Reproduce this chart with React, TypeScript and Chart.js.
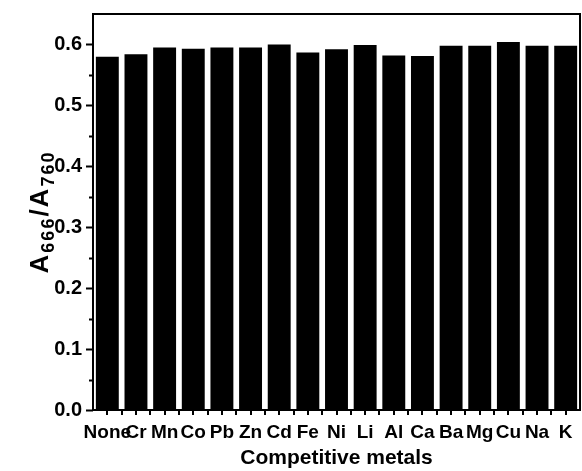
import { useEffect, useRef } from 'react';
import { Chart, registerables } from 'chart.js';

Chart.register(...registerables);

// Competing metal ions and the measured absorbance ratio for each
const metals = ['None', 'Cr', 'Mn', 'Co', 'Pb', 'Zn', 'Cd', 'Fe', 'Ni', 'Li', 'Al', 'Ca', 'Ba', 'Mg', 'Cu', 'Na', 'K'];
const ratios = [0.580, 0.584, 0.595, 0.593, 0.595, 0.595, 0.600, 0.587, 0.592, 0.599, 0.582, 0.581, 0.598, 0.598, 0.604, 0.598, 0.598];

// Y axis tick values
const yMajorTicks = [0, 0.1, 0.2, 0.3, 0.4, 0.5, 0.6];
const yMinorTicks = [0.05, 0.15, 0.25, 0.35, 0.45, 0.55];
const yMax = 0.65;

const FONT = '"Liberation Sans", Arial, Helvetica, sans-serif';

// Draws the boxed frame and outward tick marks around the plot area
const framePlugin = {
  id: 'frameTicks',
  afterDraw(chart: any) {
    const { ctx, chartArea: ca } = chart;
    const xs = chart.scales.x;
    const ys = chart.scales.y;
    ctx.save();
    ctx.strokeStyle = '#000';
    ctx.lineWidth = 2;
    ctx.strokeRect(ca.left, ca.top, ca.right - ca.left, ca.bottom - ca.top);

    ctx.beginPath();
    for (const v of yMajorTicks) {
      const py = Math.round(ys.getPixelForValue(v)) + 0.5;
      ctx.moveTo(ca.left - 7, py);
      ctx.lineTo(ca.left, py);
    }
    for (const v of yMinorTicks) {
      const py = Math.round(ys.getPixelForValue(v)) + 0.5;
      ctx.moveTo(ca.left - 4, py);
      ctx.lineTo(ca.left, py);
    }
    const n = metals.length;
    const positions: number[] = [];
    for (let i = 0; i < n; i++) {
      const c = xs.getPixelForValue(i);
      positions.push(c);
      if (i < n - 1) positions.push((c + xs.getPixelForValue(i + 1)) / 2);
    }
    for (const px of positions) {
      const x = Math.round(px);
      ctx.moveTo(x, ca.bottom);
      ctx.lineTo(x, ca.bottom + 5);
    }
    ctx.stroke();
    ctx.restore();
  },
};

// Rotated y axis title with subscripts: A666/A760
const yTitlePlugin = {
  id: 'yTitle',
  afterDraw(chart: any) {
    const { ctx, chartArea: ca } = chart;
    const parts = [
      { t: 'A', sub: false },
      { t: '666', sub: true },
      { t: '/A', sub: false },
      { t: '760', sub: true },
    ];
    const big = `bold 26px ${FONT}`;
    const small = `bold 18px ${FONT}`;
    ctx.save();
    (ctx as any).letterSpacing = '2px';
    let total = 0;
    for (const p of parts) {
      ctx.font = p.sub ? small : big;
      total += ctx.measureText(p.t).width;
    }
    ctx.translate(48, (ca.top + ca.bottom) / 2);
    ctx.rotate(-Math.PI / 2);
    ctx.fillStyle = '#000';
    ctx.textBaseline = 'alphabetic';
    let x = -total / 2;
    for (const p of parts) {
      ctx.font = p.sub ? small : big;
      ctx.fillText(p.t, x, p.sub ? 6 : 0);
      x += ctx.measureText(p.t).width;
    }
    ctx.restore();
  },
};

export default function App() {
  const canvasRef = useRef<HTMLCanvasElement | null>(null);

  useEffect(() => {
    if (!canvasRef.current) return;
    const chart = new Chart(canvasRef.current, {
      type: 'bar',
      data: {
        labels: metals,
        datasets: [
          {
            data: ratios,
            backgroundColor: '#000',
            borderWidth: 0,
            barPercentage: 0.8,
            categoryPercentage: 1.0,
          },
        ],
      },
      options: {
        animation: false,
        responsive: true,
        maintainAspectRatio: false,
        layout: { padding: { top: 14, right: 2, left: 0, bottom: 0 } },
        plugins: {
          legend: { display: false },
          tooltip: { enabled: false },
        },
        scales: {
          x: {
            grid: { display: false, drawTicks: false },
            border: { display: false },
            ticks: {
              autoSkip: false,
              maxRotation: 0,
              minRotation: 0,
              padding: 11,
              color: '#000',
              font: { family: FONT, size: 19, weight: 'bold' },
            },
            title: {
              display: true,
              text: 'Competitive metals',
              color: '#000',
              padding: { top: 0, bottom: 0 },
              font: { family: FONT, size: 21, weight: 'bold' },
            },
            afterFit(scale: any) {
              scale.height = 61;
              scale.paddingLeft = 0;
              scale.paddingRight = 0;
            },
          },
          y: {
            min: 0,
            max: yMax,
            grid: { display: false, drawTicks: false },
            border: { display: false },
            afterBuildTicks(scale: any) {
              scale.ticks = yMajorTicks.map((value) => ({ value }));
            },
            ticks: {
              padding: 11,
              color: '#000',
              font: { family: FONT, size: 20, weight: 'bold' },
              callback: (v: any) => Number(v).toFixed(1),
            },
            afterFit(scale: any) {
              scale.width = 93;
              scale.paddingTop = 0;
              scale.paddingBottom = 0;
            },
          },
        },
      },
      plugins: [framePlugin, yTitlePlugin],
    });
    return () => chart.destroy();
  }, []);

  return (
    <div style={{ position: 'absolute', left: 0, top: 0, width: 582, height: 471, background: '#fff' }}>
      <canvas ref={canvasRef} />
    </div>
  );
}
